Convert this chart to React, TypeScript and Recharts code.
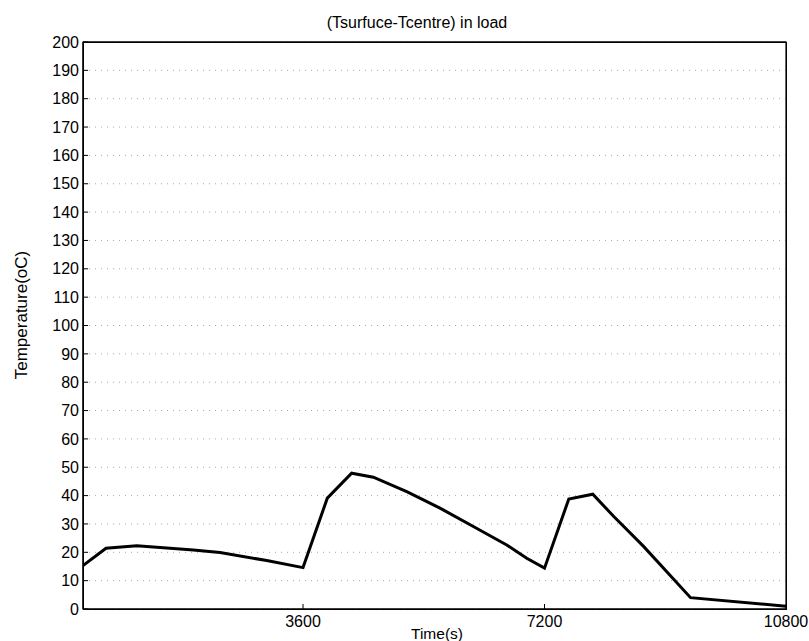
import React from "react";
import { LineChart, Line, XAxis, YAxis, CartesianGrid, ReferenceArea } from "recharts";

// time in seconds, temperature difference surface - centre in °C
const timeS = [320, 663, 1121, 1965, 2363, 3059, 3600, 3962, 4325, 4648, 5146, 5642, 6139, 6637, 6935, 7200, 7562, 7920, 8233, 8680, 9377, 10800];
const deltaT = [15.3, 21.4, 22.3, 20.8, 19.9, 17.1, 14.6, 39.1, 47.9, 46.5, 41.4, 35.6, 29.1, 22.6, 17.9, 14.4, 38.8, 40.5, 32.6, 22.0, 4.0, 1.0];

const xTicks = [3600, 7200, 10800];
const yTicks = [0, 10, 20, 30, 40, 50, 60, 70, 80, 90, 100, 110, 120, 130, 140, 150, 160, 170, 180, 190, 200];

const title = "(Tsurfuce-Tcentre) in load";
const xLabel = "Time(s)";
const yLabel = "Temperature(oC)";

const xMin = 320;
const xMax = 10800;
const yMax = 200;

const data = timeS.map((t, i) => ({ t, dT: deltaT[i] }));

const font = '"Liberation Sans", Arial, Helvetica, sans-serif';

// plot box in pixels, used for the frame overlay
const plot = { left: 83, top: 42, right: 786, bottom: 609 };

const App: React.FC = () => {
  return (
    <div style={{ position: "relative", width: 809, height: 641, overflow: "hidden", background: "#fff", fontFamily: font }}>
      <style>{"body{margin:0}"}</style>
      <LineChart
        width={809}
        height={641}
        data={data}
        margin={{ top: 12, right: 23, bottom: 2, left: 23 }}
        style={{ fontFamily: font }}
      >
        <CartesianGrid vertical={false} stroke="#a8a8a8" strokeDasharray="1 5" />
        <XAxis
          dataKey="t"
          type="number"
          domain={[xMin, xMax]}
          ticks={xTicks}
          height={30}
          stroke="#000"
          tickSize={-5}
          tickMargin={12}
          tick={{ fill: "#000", fontSize: 16 }}
          allowDataOverflow
        />
        <XAxis
          xAxisId="t"
          dataKey="t"
          orientation="top"
          type="number"
          domain={[xMin, xMax]}
          ticks={[3600, 7200]}
          height={30}
          stroke="#000"
          tickSize={-5}
          tick={false}
          allowDataOverflow
        />
        <YAxis
          type="number"
          domain={[0, yMax]}
          ticks={yTicks}
          width={60}
          stroke="#000"
          tickSize={-5}
          tickMargin={9}
          tick={{ fill: "#000", fontSize: 16 }}
          interval={0}
          allowDataOverflow
        />
        <ReferenceArea
          x1={xMin}
          x2={xMax}
          y1={0}
          y2={yMax}
          fill="none"
          stroke="#000"
          strokeWidth={1.2}
          ifOverflow="visible"
        />
        <Line
          type="linear"
          dataKey="dT"
          stroke="#000"
          strokeWidth={3}
          dot={false}
          isAnimationActive={false}
        />
      </LineChart>
      {/* axes box */}
      <div
        style={{
          position: "absolute",
          left: plot.left,
          top: plot.top,
          width: plot.right - plot.left - 1,
          height: plot.bottom - plot.top - 1,
          border: "1px solid #000",
          pointerEvents: "none",
        }}
      />
      <div style={{ position: "absolute", left: 417, top: 23, transform: "translate(-50%, -50%)", fontSize: 16, whiteSpace: "nowrap", lineHeight: 1 }}>
        {title}
      </div>
      <div style={{ position: "absolute", left: 437, top: 634, transform: "translate(-50%, -50%)", fontSize: 15.5, whiteSpace: "nowrap", lineHeight: 1 }}>
        {xLabel}
      </div>
      <div style={{ position: "absolute", left: 21, top: 315, transform: "translate(-50%, -50%) rotate(-90deg)", fontSize: 17, whiteSpace: "nowrap", lineHeight: 1 }}>
        {yLabel}
      </div>
    </div>
  );
};

export default App;
